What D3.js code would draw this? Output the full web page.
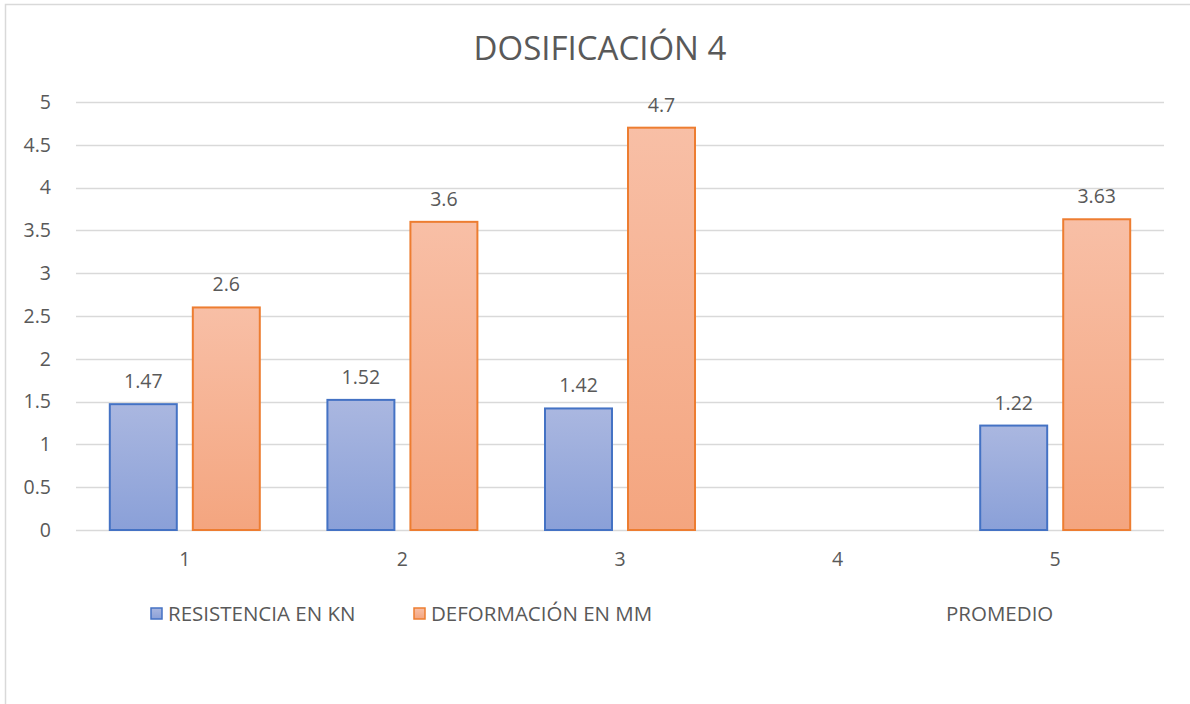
<!doctype html>
<html>
<head>
<meta charset="utf-8">
<style>
  body { margin: 0; background: #fff; }
  text { font-family: "Open Sans", "Noto Sans", sans-serif; fill: #595959; }
</style>
<script src="https://d3js.org/d3.v7.min.js"></script>
</head>
<body>
<svg width="1190" height="704"></svg>
<script>
// chart data
var categories = ["1", "2", "3", "4", "5"];
var resistencia = [1.47, 1.52, 1.42, null, 1.22];
var deformacion = [2.6, 3.6, 4.7, null, 3.63];
var promedio = [null, null, null, null, null];
var yTicks = [0, 0.5, 1, 1.5, 2, 2.5, 3, 3.5, 4, 4.5, 5];
var seriesNames = ["RESISTENCIA EN KN", "DEFORMACIÓN EN MM", "PROMEDIO"];

var svg = d3.select("svg");

// outer frame of the chart area
svg.append("rect")
   .attr("x", 5.5).attr("y", 4.5)
   .attr("width", 1200).attr("height", 720)
   .attr("fill", "none")
   .attr("stroke", "#d9d9d9")
   .attr("stroke-width", 1.5);

var plotLeft = 76, plotRight = 1164, plotTop = 102, plotBottom = 530;

var x = d3.scaleBand().domain(categories).range([plotLeft, plotRight]);
var y = d3.scaleLinear().domain([0, 5]).range([plotBottom, plotTop]);

var defs = svg.append("defs");
function grad(id, c1, c2) {
    var g = defs.append("linearGradient").attr("id", id)
        .attr("x1", 0).attr("y1", 0).attr("x2", 0).attr("y2", 1);
    g.append("stop").attr("offset", "0%").attr("stop-color", c1);
    g.append("stop").attr("offset", "100%").attr("stop-color", c2);
}
grad("gBlue", "#aab7e0", "#8aa0d8");
grad("gOrange", "#f8bfa6", "#f4a57f");

// gridlines
svg.append("g")
   .selectAll("line")
   .data(yTicks)
   .enter().append("line")
   .attr("x1", plotLeft).attr("x2", plotRight)
   .attr("y1", function(d) { return Math.round(y(d)) + 0.5; })
   .attr("y2", function(d) { return Math.round(y(d)) + 0.5; })
   .attr("stroke", "#d9d9d9")
   .attr("stroke-width", 1.5);

// y axis labels
var yAxis = svg.append("g")
   .attr("transform", "translate(" + (plotLeft - 22) + ",0)")
   .call(d3.axisLeft(y).tickValues(yTicks).tickSize(0).tickFormat(function(d) { return d; }));
yAxis.select(".domain").remove();
yAxis.selectAll("text")
   .attr("font-size", 19.5)
   .attr("fill", "#595959")
   .style("font-family", "'Open Sans', sans-serif");

// x axis labels
var xAxis = svg.append("g")
   .attr("transform", "translate(0," + (plotBottom + 19) + ")")
   .call(d3.axisBottom(x).tickSize(0));
xAxis.select(".domain").remove();
xAxis.selectAll("text")
   .attr("font-size", 19.5)
   .attr("fill", "#595959")
   .style("font-family", "'Open Sans', sans-serif");

var inner = d3.scaleBand().domain([0, 1]).range([0, 150]).paddingInner(0.193);
var offset = (x.bandwidth() - 150) / 2;

var series = [
    { values: resistencia, fill: "url(#gBlue)", stroke: "#4472c4" },
    { values: deformacion, fill: "url(#gOrange)", stroke: "#ed7d31" }
];

series.forEach(function(s, i) {
    var data = categories.map(function(c, j) { return { cat: c, v: s.values[j] }; })
        .filter(function(d) { return d.v != null; });
    var bx = function(d) { return x(d.cat) + offset + inner(i); };

    svg.append("g").selectAll("rect")
       .data(data)
       .enter().append("rect")
       .attr("x", bx)
       .attr("y", function(d) { return y(d.v); })
       .attr("width", inner.bandwidth())
       .attr("height", function(d) { return plotBottom - y(d.v); })
       .attr("fill", s.fill)
       .attr("stroke", s.stroke)
       .attr("stroke-width", 2);

    svg.append("g").selectAll("text")
       .data(data)
       .enter().append("text")
       .attr("x", function(d) { return bx(d) + inner.bandwidth() / 2; })
       .attr("y", function(d) { return y(d.v) - 16; })
       .attr("text-anchor", "middle")
       .attr("font-size", 19.5)
       .text(function(d) { return d.v; });
});

// title
svg.append("text")
   .attr("x", 600).attr("y", 60)
   .attr("text-anchor", "middle")
   .attr("font-size", 33)
   .text("DOSIFICACIÓN 4");

// legend
var legend = [
    { name: seriesNames[0], x: 150, fill: "url(#gBlue)", stroke: "#4472c4" },
    { name: seriesNames[1], x: 413, fill: "url(#gOrange)", stroke: "#ed7d31" },
    { name: seriesNames[2], x: 928, fill: null, stroke: null }
];
legend.forEach(function(l) {
    if (l.fill) {
        svg.append("rect")
           .attr("x", l.x + 1).attr("y", 608)
           .attr("width", 11).attr("height", 11)
           .attr("fill", l.fill)
           .attr("stroke", l.stroke)
           .attr("stroke-width", 1.5);
    }
    svg.append("text")
       .attr("x", l.x + 18).attr("y", 621)
       .attr("font-size", 20.5)
       .text(l.name);
});
</script>
</body>
</html>
